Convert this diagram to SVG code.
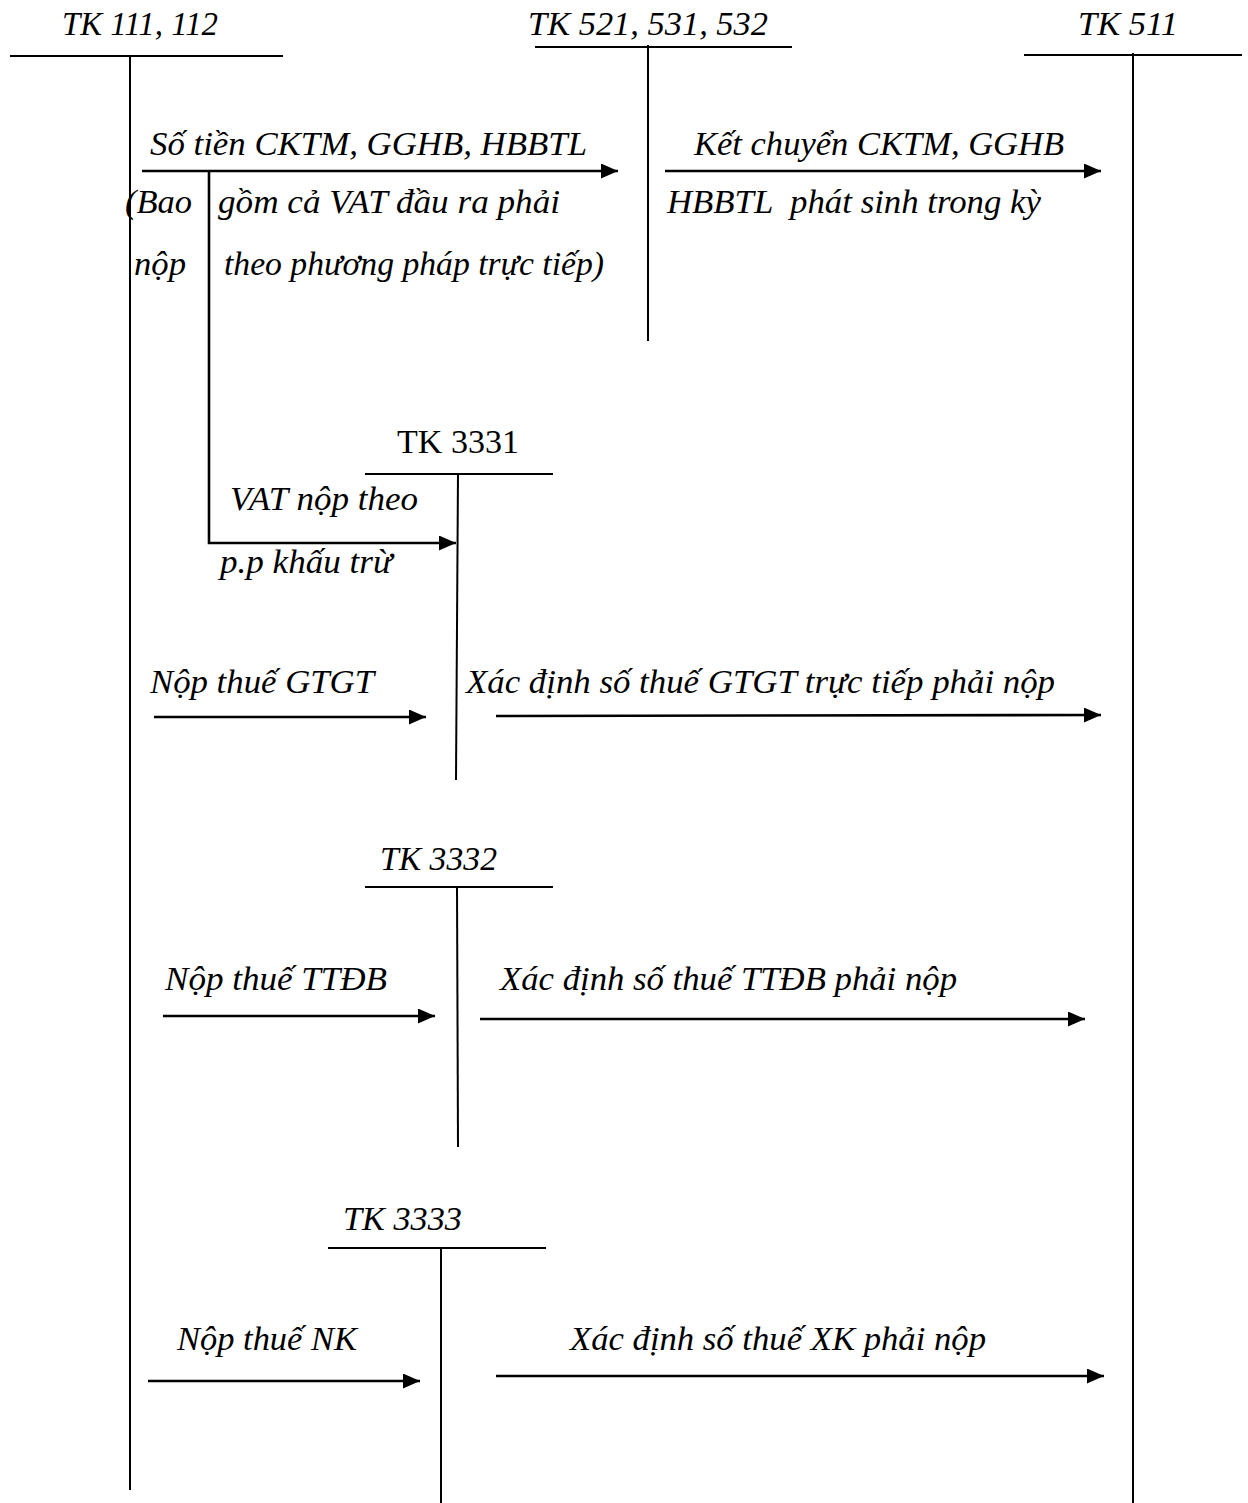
<svg xmlns="http://www.w3.org/2000/svg" width="1248" height="1503" viewBox="0 0 1248 1503">
<style>
text{font-family:"Liberation Serif","Times New Roman",serif;font-size:34px;font-style:italic;fill:#000}
.n{font-style:normal;font-size:33px}
.s{font-size:33px}
.t{stroke:#000;stroke-width:2;fill:none}
.a{stroke:#000;stroke-width:2.6;fill:none;marker-end:url(#ah)}
</style>
<defs>
<marker id="ah" markerWidth="17" markerHeight="15" refX="17" refY="7.5" orient="auto" markerUnits="userSpaceOnUse">
<path d="M0,0 L17,7.5 L0,15 Z" fill="#000"/>
</marker>
</defs>
<rect width="1248" height="1503" fill="#fff"/>
<g id="tk111">
<text x="62" y="35" textLength="156" lengthAdjust="spacingAndGlyphs">TK 111, 112</text>
<line class="t" x1="10" y1="56" x2="283" y2="56"/>
<line class="t" x1="130" y1="56" x2="130" y2="1490"/>
</g>
<g id="tk521">
<text x="528" y="35" textLength="240" lengthAdjust="spacingAndGlyphs">TK 521, 531, 532</text>
<line class="t" x1="535" y1="47" x2="792" y2="47"/>
<line class="t" x1="648" y1="45" x2="648" y2="341"/>
</g>
<g id="tk511">
<text x="1078" y="35" textLength="100" lengthAdjust="spacingAndGlyphs">TK 511</text>
<line class="t" x1="1024" y1="55" x2="1242" y2="55"/>
<line class="t" x1="1133" y1="53" x2="1133" y2="1503"/>
</g>
<g id="tk3331">
<text class="n" x="397" y="453" textLength="122" lengthAdjust="spacingAndGlyphs">TK 3331</text>
<line class="t" x1="365" y1="474" x2="553" y2="474"/>
<line class="t" x1="458" y1="474" x2="456" y2="780"/>
</g>
<g id="tk3332">
<text class="s" x="380" y="870" textLength="117" lengthAdjust="spacingAndGlyphs">TK 3332</text>
<line class="t" x1="365" y1="887" x2="553" y2="887"/>
<line class="t" x1="457" y1="887" x2="458" y2="1147"/>
</g>
<g id="tk3333">
<text class="s" x="343" y="1230" textLength="119" lengthAdjust="spacingAndGlyphs">TK 3333</text>
<line class="t" x1="328" y1="1248" x2="546" y2="1248"/>
<line class="t" x1="441" y1="1248" x2="441" y2="1503"/>
</g>
<g id="connectors">
<line class="a" x1="142" y1="171" x2="618" y2="171"/>
<line class="a" x1="665" y1="171" x2="1101" y2="171"/>
<polyline class="a" points="209,171 209,543 456,543"/>
<line class="a" x1="154" y1="717" x2="426" y2="717"/>
<line class="a" x1="496" y1="716" x2="1101" y2="715"/>
<line class="a" x1="163" y1="1016" x2="435" y2="1016"/>
<line class="a" x1="480" y1="1019" x2="1085" y2="1019"/>
<line class="a" x1="148" y1="1381" x2="420" y2="1381"/>
<line class="a" x1="496" y1="1376" x2="1104" y2="1376"/>
</g>
<g id="labels">
<text x="150" y="155" textLength="437" lengthAdjust="spacingAndGlyphs">Số tiền CKTM, GGHB, HBBTL</text>
<text x="125" y="213" textLength="67" lengthAdjust="spacingAndGlyphs">(Bao</text>
<text x="218" y="213" textLength="342" lengthAdjust="spacingAndGlyphs">gồm cả VAT đầu ra phải</text>
<text x="134" y="275" textLength="52" lengthAdjust="spacingAndGlyphs">nộp</text>
<text x="224" y="275" textLength="380" lengthAdjust="spacingAndGlyphs">theo phương pháp trực tiếp)</text>
<text x="694" y="155" textLength="370" lengthAdjust="spacingAndGlyphs">Kết chuyển CKTM, GGHB</text>
<text x="667" y="213" textLength="374" lengthAdjust="spacingAndGlyphs" xml:space="preserve">HBBTL  phát sinh trong kỳ</text>
<text x="230" y="510" textLength="188" lengthAdjust="spacingAndGlyphs">VAT nộp theo</text>
<text x="220" y="573" textLength="172" lengthAdjust="spacingAndGlyphs">p.p khấu trừ</text>
<text x="150" y="693" textLength="224" lengthAdjust="spacingAndGlyphs">Nộp thuế GTGT</text>
<text x="466" y="693" textLength="589" lengthAdjust="spacingAndGlyphs">Xác định số thuế GTGT trực tiếp phải nộp</text>
<text class="s" x="165" y="990" textLength="222" lengthAdjust="spacingAndGlyphs">Nộp thuế TTĐB</text>
<text class="s" x="500" y="990" textLength="457" lengthAdjust="spacingAndGlyphs">Xác định số thuế TTĐB phải nộp</text>
<text class="s" x="177" y="1350" textLength="180" lengthAdjust="spacingAndGlyphs">Nộp thuế NK</text>
<text class="s" x="570" y="1350" textLength="416" lengthAdjust="spacingAndGlyphs">Xác định số thuế XK phải nộp</text>
</g>
</svg>
